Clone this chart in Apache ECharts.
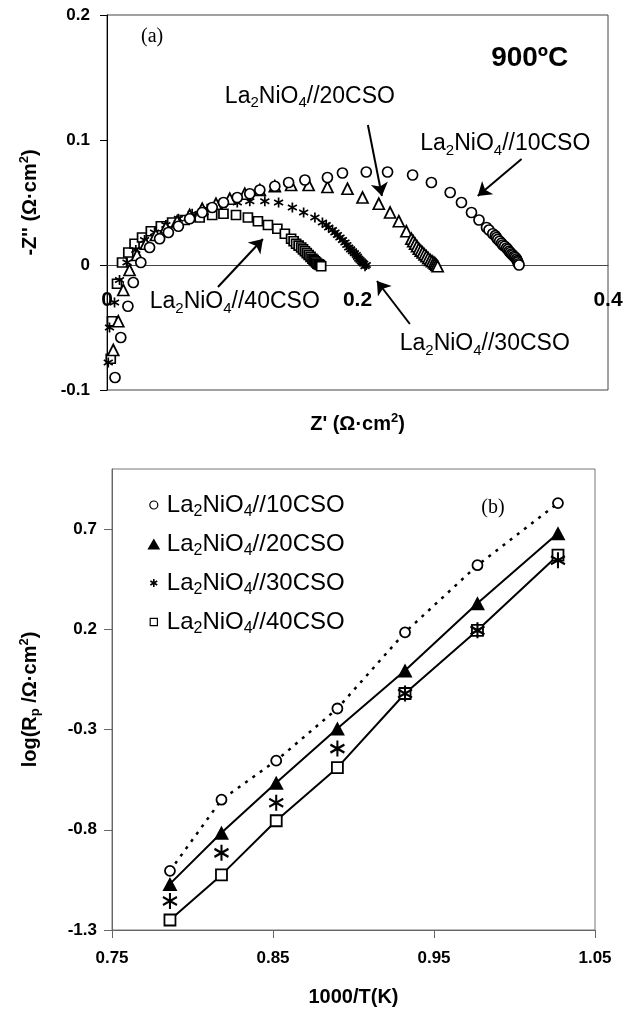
<!DOCTYPE html>
<html>
<head>
<meta charset="utf-8">
<script src="https://cdn.jsdelivr.net/npm/echarts@6/dist/echarts.min.js"></script>
<style>
  html, body { margin: 0; padding: 0; background: #fff; }
  #chart { width: 638px; height: 1011px; }
</style>
</head>
<body>
<div id="chart"></div>
<script>
// ---------- (a) impedance spectra at 900 °C : [Z', -Z''] in Ω·cm² ----------
const nyq10 = [[0.0064,-0.090],[0.011,-0.058],[0.0167,-0.033],[0.021,-0.014],[0.027,0.002],[0.034,0.014],
  [0.042,0.021],[0.049,0.026],[0.057,0.031],[0.066,0.037],[0.076,0.042],[0.084,0.046],[0.093,0.050],
  [0.104,0.054],[0.114,0.057],[0.122,0.060],[0.134,0.063],[0.145,0.066],[0.158,0.068],[0.176,0.070],
  [0.188,0.0736],[0.207,0.0744],[0.224,0.0744],[0.244,0.072],[0.259,0.066],[0.274,0.058],[0.283,0.050],
  [0.291,0.042],[0.297,0.036],[0.303,0.030],[0.305,0.028],[0.308,0.025],[0.310,0.0235],[0.311,0.022],
  [0.312,0.0205],[0.3135,0.019],[0.315,0.0175],[0.316,0.016],[0.3175,0.015],[0.319,0.0136],[0.320,0.0125],
  [0.321,0.011],[0.322,0.010],[0.323,0.0088],[0.324,0.008],[0.325,0.0068],[0.326,0.006],[0.327,0.0048],
  [0.3275,0.0035],[0.328,0.0025],[0.3285,0.001],[0.329,0.000]];
const nyq20 = [[0.005,-0.068],[0.009,-0.045],[0.013,-0.020],[0.018,-0.004],[0.024,0.008],[0.031,0.017],
  [0.039,0.024],[0.047,0.030],[0.056,0.035],[0.066,0.040],[0.076,0.045],[0.087,0.049],[0.098,0.053],
  [0.110,0.057],[0.122,0.060],[0.134,0.063],[0.147,0.064],[0.161,0.064],[0.176,0.0624],[0.192,0.061],
  [0.204,0.054],[0.217,0.049],[0.226,0.042],[0.233,0.035],[0.239,0.027],[0.243,0.021],[0.2445,0.019],
  [0.246,0.017],[0.2475,0.015],[0.249,0.013],[0.2505,0.0115],[0.252,0.010],[0.2535,0.0085],[0.255,0.007],
  [0.2565,0.0055],[0.258,0.004],[0.2595,0.003],[0.261,0.002],[0.262,0.001],[0.263,0.000],[0.264,-0.001]];
const nyq30 = [[0.001,-0.078],[0.002,-0.050],[0.006,-0.030],[0.010,-0.012],[0.016,0.002],[0.023,0.012],
  [0.030,0.020],[0.038,0.026],[0.047,0.032],[0.057,0.037],[0.068,0.041],[0.080,0.045],[0.092,0.048],
  [0.104,0.050],[0.114,0.051],[0.126,0.051],[0.137,0.050],[0.148,0.046],[0.157,0.042],[0.166,0.038],
  [0.172,0.034],[0.175,0.032],[0.177,0.030],[0.180,0.028],[0.182,0.026],[0.184,0.024],[0.186,0.022],
  [0.188,0.020],[0.190,0.018],[0.1915,0.016],[0.193,0.014],[0.1945,0.0125],[0.196,0.011],[0.1975,0.0095],
  [0.199,0.008],[0.200,0.0065],[0.201,0.005],[0.202,0.004],[0.203,0.003],[0.204,0.002],[0.205,0.001],
  [0.206,-0.001],[0.207,0.000]];
const nyq40 = [[0.003,-0.075],[0.004,-0.045],[0.008,-0.015],[0.012,0.002],[0.017,0.010],[0.022,0.017],
  [0.028,0.022],[0.035,0.027],[0.043,0.031],[0.052,0.034],[0.062,0.036],[0.074,0.038],[0.084,0.040],
  [0.093,0.041],[0.103,0.040],[0.1125,0.038],[0.1205,0.035],[0.1285,0.032],[0.136,0.029],[0.142,0.025],
  [0.147,0.021],[0.149,0.019],[0.151,0.017],[0.153,0.0155],[0.155,0.014],[0.1565,0.0125],[0.158,0.011],
  [0.1595,0.0095],[0.161,0.008],[0.1625,0.0065],[0.164,0.005],[0.165,0.004],[0.166,0.003],[0.167,0.002],
  [0.168,0.001],[0.169,0.0005],[0.170,0.000],[0.171,-0.001]];

// arrows from each label to its arc: [start, end] in data units
const nyqArrows = [
  [[0.2083, 0.112], [0.2195, 0.0552]],
  [[0.331, 0.0848], [0.296, 0.0552]],
  [[0.0886, -0.0176], [0.1245, 0.0208]],
  [[0.2418, -0.0472], [0.2155, -0.0128]]
];
const nyqLabelPos = { c20: [0.162, 0.135], c10: [0.318, 0.0968], c40: [0.102, -0.0296], c30: [0.3016, -0.0632] };

// ---------- (b) Arrhenius plot ----------
const invT     = [0.786, 0.818, 0.852, 0.890, 0.932, 0.977, 1.027];
const logRp10  = [-1.005, -0.650, -0.455, -0.195, 0.185, 0.520, 0.830];
const logRp20  = [-1.070, -0.815, -0.565, -0.295, -0.005, 0.330, 0.680];
const logRp30  = [-1.155, -0.915, -0.665, -0.395, -0.120, 0.195, 0.545];
const logRp40  = [-1.250, -1.025, -0.755, -0.490, -0.120, 0.195, 0.570];

const arrXTicks = [0.75, 0.85, 0.95, 1.05];
const arrYTicks = [-1.3, -0.8, -0.3, 0.2, 0.7];

const SANS = '"Liberation Sans", Arial, sans-serif';
const SERIF = '"Liberation Serif", "Times New Roman", serif';

const pair = (xs, ys) => xs.map((x, i) => [x, ys[i]]);
const compound = n => '{n|La}{s|2}{n|NiO}{s|4}{n|//' + n + 'CSO}';

// six-armed asterisk, drawn at roughly its own pixel size so the stroke is not shrunk
const STAR_SMALL = 'path://M0,-5L0,5M-4.33,-2.5L4.33,2.5M-4.33,2.5L4.33,-2.5';
const STAR_BIG = 'path://M0,-8L0,8M-6.93,-4L6.93,4M-6.93,4L6.93,-4';
const hollow = w => ({ color: '#fff', borderColor: '#000', borderWidth: w, opacity: 1 });
const strokeOnly = w => ({ color: '#000', borderColor: '#000', borderWidth: w, opacity: 1 });

const titleRich = {
  b: { fontFamily: SANS, fontSize: 20, fontWeight: 'bold', color: '#000', lineHeight: 24 },
  sup: { fontFamily: SANS, fontSize: 13, fontWeight: 'bold', color: '#000', verticalAlign: 'top' },
  sub: { fontFamily: SANS, fontSize: 13, fontWeight: 'bold', color: '#000', verticalAlign: 'bottom' }
};
const noteRich = (big, small) => ({
  n: { fontFamily: SANS, fontSize: big, color: '#000', lineHeight: big + 6 },
  s: { fontFamily: SANS, fontSize: small, color: '#000', verticalAlign: 'bottom' }
});

const chart = echarts.init(document.getElementById('chart'));

const option = {
  animation: false,
  backgroundColor: '#fff',
  grid: [
    { left: 107, top: 15, width: 501, height: 375, show: true, borderColor: '#444', borderWidth: 1, containLabel: false },
    { left: 112, top: 469, width: 483, height: 461, show: true, borderColor: '#777', borderWidth: 1, containLabel: false }
  ],
  xAxis: [
    {
      gridIndex: 0, type: 'value', min: 0, max: 0.4, interval: 0.2,
      axisLine: { onZero: true, lineStyle: { color: '#444', width: 1 } },
      axisTick: { show: false },
      splitLine: { show: false },
      axisLabel: { fontFamily: SANS, fontSize: 21, fontWeight: 'bold', color: '#000', margin: -100 },
      name: "{b|Z' (Ω·cm}{sup|2}{b|)}", nameLocation: 'middle', nameGap: 22,
      nameTextStyle: { rich: titleRich }
    },
    {
      gridIndex: 1, type: 'value', min: 0.75, max: 1.05,
      axisLine: { onZero: false, lineStyle: { color: '#666', width: 1 } },
      axisTick: { show: true, length: 8, lineStyle: { color: '#666' }, customValues: arrXTicks },
      splitLine: { show: false },
      axisLabel: { fontFamily: SANS, fontSize: 17, fontWeight: 'bold', color: '#000', margin: 20, customValues: arrXTicks },
      name: '{b|1000/T(K)}', nameLocation: 'middle', nameGap: 55,
      nameTextStyle: { rich: titleRich }
    }
  ],
  yAxis: [
    {
      gridIndex: 0, type: 'value', min: -0.1, max: 0.2, interval: 0.1,
      axisLine: { onZero: false, lineStyle: { color: '#000', width: 1 } },
      axisTick: { show: true, length: 7, lineStyle: { color: '#000' } },
      splitLine: { show: false },
      axisLabel: { fontFamily: SANS, fontSize: 17, fontWeight: 'bold', color: '#000', margin: 17 },
      name: "{b|-Z'' (Ω·cm}{sup|2}{b|)}", nameLocation: 'middle', nameGap: 65, nameRotate: 90,
      nameTextStyle: { rich: titleRich }
    },
    {
      gridIndex: 1, type: 'value', min: -1.3, max: 1.0,
      axisLine: { onZero: false, lineStyle: { color: '#666', width: 1 } },
      axisTick: { show: true, length: 8, lineStyle: { color: '#666' }, customValues: arrYTicks },
      splitLine: { show: false },
      axisLabel: { fontFamily: SANS, fontSize: 17, fontWeight: 'bold', color: '#000', margin: 15, customValues: arrYTicks },
      name: '{b|log(R}{sub|p}{b| /Ω·cm}{sup|2}{b|)}', nameLocation: 'middle', nameGap: 70, nameRotate: 90,
      nameTextStyle: { rich: titleRich }
    }
  ],
  legend: {
    orient: 'vertical', left: 140, top: 488, itemGap: 12,
    itemWidth: 16, itemHeight: 16,
    selectedMode: false,
    formatter: name => compound(name),
    textStyle: { rich: noteRich(24, 16) },
    data: [
      { name: '10', icon: 'path://M-10,-10M10,10M5,0A5,5 0 1 1 -5,0A5,5 0 1 1 5,0Z',
        itemStyle: { color: '#fff', borderColor: '#000', borderWidth: 1.2, opacity: 1 } },
      { name: '20', icon: 'path://M-10,-10M10,10M0,-7L8,7L-8,7Z',
        itemStyle: { color: '#000', borderColor: '#000', borderWidth: 0, opacity: 1 } },
      { name: '30', icon: 'path://M-10,-10M10,10M0,-5L0,5M-4.3,-2.5L4.3,2.5M-4.3,2.5L4.3,-2.5',
        itemStyle: { color: '#000', borderColor: '#000', borderWidth: 1.6, opacity: 1 } },
      { name: '40', icon: 'path://M-10,-10M10,10M-4.5,-4.5L4.5,-4.5L4.5,4.5L-4.5,4.5Z',
        itemStyle: { color: '#fff', borderColor: '#000', borderWidth: 1.2, opacity: 1 } }
    ]
  },
  series: [
    // (a) Nyquist arcs
    { type: 'scatter', name: 'a40', xAxisIndex: 0, yAxisIndex: 0, data: nyq40,
      symbol: 'rect', symbolSize: 9, itemStyle: hollow(1.7) },
    { type: 'scatter', name: 'a30', xAxisIndex: 0, yAxisIndex: 0, data: nyq30,
      symbol: STAR_SMALL, symbolSize: [9, 10], itemStyle: strokeOnly(1.8) },
    { type: 'scatter', name: 'a20', xAxisIndex: 0, yAxisIndex: 0, data: nyq20,
      symbol: 'triangle', symbolSize: 11, itemStyle: hollow(1.7) },
    { type: 'scatter', name: 'a10', xAxisIndex: 0, yAxisIndex: 0, data: nyq10,
      symbol: 'circle', symbolSize: 10, itemStyle: hollow(1.7),
      markLine: {
        silent: true, animation: false,
        symbol: ['none', 'arrow'], symbolSize: 13,
        label: { show: false },
        itemStyle: { color: '#000' },
        lineStyle: { color: '#000', width: 2, type: 'solid', opacity: 1 },
        data: nyqArrows.map(a => [{ coord: a[0] }, { coord: a[1] }])
      } },
    // (b) Arrhenius plot
    { type: 'line', name: '10', xAxisIndex: 1, yAxisIndex: 1, data: pair(invT, logRp10),
      symbol: 'circle', symbolSize: 10, itemStyle: hollow(1.8),
      lineStyle: { color: '#000', width: 2.5, type: [3, 6] }, z: 3 },
    { type: 'line', name: '20', xAxisIndex: 1, yAxisIndex: 1, data: pair(invT, logRp20),
      symbol: 'triangle', symbolSize: [15, 14],
      itemStyle: { color: '#000', borderColor: '#000', borderWidth: 0, opacity: 1 },
      lineStyle: { color: '#000', width: 2 }, z: 3 },
    { type: 'scatter', name: '30', xAxisIndex: 1, yAxisIndex: 1, data: pair(invT, logRp30),
      symbol: STAR_BIG, symbolSize: [14, 16], itemStyle: strokeOnly(2.2), z: 4 },
    { type: 'line', name: '40', xAxisIndex: 1, yAxisIndex: 1, data: pair(invT, logRp40),
      symbol: 'rect', symbolSize: 11, itemStyle: hollow(1.8),
      lineStyle: { color: '#000', width: 2 }, z: 3 }
  ]
};

chart.setOption(option);

// text notes placed in data units of each panel
const px0 = p => chart.convertToPixel({ gridIndex: 0 }, p);
const px1 = p => chart.convertToPixel({ gridIndex: 1 }, p);
const note = (p, n) => ({
  type: 'text', x: p[0], y: p[1], z: 50,
  style: { text: compound(n), rich: noteRich(23, 15), align: 'center', verticalAlign: 'middle' }
});
const plain = (p, text, font) => ({
  type: 'text', x: p[0], y: p[1], z: 50,
  style: Object.assign({ text: text, align: 'center', verticalAlign: 'middle', fill: '#000' }, font)
});

chart.setOption({
  graphic: [
    note(px0(nyqLabelPos.c20), '20'),
    note(px0(nyqLabelPos.c10), '10'),
    note(px0(nyqLabelPos.c40), '40'),
    note(px0(nyqLabelPos.c30), '30'),
    plain(px0([0.3375, 0.165]), '900ºC', { fontFamily: SANS, fontSize: 28, fontWeight: 'bold' }),
    plain(px0([0.036, 0.183]), '(a)', { fontFamily: SERIF, fontSize: 20 }),
    plain(px1([0.9866, 0.805]), '(b)', { fontFamily: SERIF, fontSize: 20 })
  ]
});
</script>
</body>
</html>
